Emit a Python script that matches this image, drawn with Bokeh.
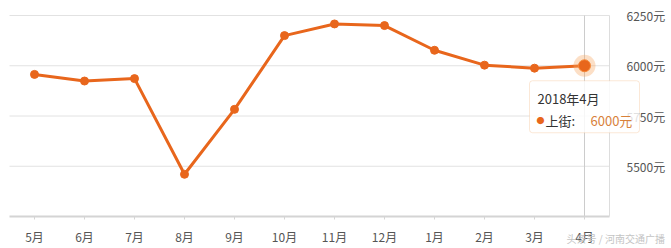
from bokeh.plotting import figure
from bokeh.models import Range1d, FixedTicker, PrintfTickFormatter, BoxAnnotation, Label, ColumnDataSource
from bokeh.embed import file_html
from bokeh.resources import INLINE

months = ["5月", "6月", "7月", "8月", "9月", "10月", "11月", "12月", "1月", "2月", "3月", "4月"]
prices = [5957, 5924, 5936, 5460, 5783, 6150, 6208, 6200, 6077, 6003, 5988, 6000]
y_ticks = [5500, 5750, 6000, 6250]
series_name = "上街"
tip_title = "2018年4月"
watermark = "头条号 / 河南交通广播"

ORANGE = "#E8661C"
FONT = "Noto Sans CJK SC"

W, H = 671, 248
# plotting area of the chart (pixels) and its value span
PX_LEFT, PX_RIGHT, PX_TOP, PX_BOTTOM = 9, 609, 15, 216
Y_MIN, Y_MAX = 5250, 6250
n = len(months)
ux = n / (PX_RIGHT - PX_LEFT)            # x units per pixel
uy = (Y_MAX - Y_MIN) / (PX_BOTTOM - PX_TOP)  # y units per pixel

xs = [i + 0.5 for i in range(n)]
src = ColumnDataSource(dict(x=xs, y=prices))

p = figure(width=W, height=H, output_backend="svg", toolbar_location=None,
           x_range=Range1d(-PX_LEFT * ux, (W - PX_LEFT) * ux),
           y_range=Range1d(Y_MIN - (H - PX_BOTTOM) * uy, Y_MAX + PX_TOP * uy),
           y_axis_location="right", min_border=0)
p.outline_line_color = None
p.background_fill_color = "white"
p.border_fill_color = "white"
p.xgrid.visible = False
p.ygrid.visible = False

# horizontal grid lines, limited to the plotting area
p.segment(x0=[0] * len(y_ticks), x1=[n] * len(y_ticks), y0=y_ticks, y1=y_ticks,
          line_color="#e2e2e2", line_width=1)

# x axis
xa = p.xaxis[0]
xa.fixed_location = Y_MIN
xa.bounds = (0, n)
xa.ticker = FixedTicker(ticks=xs)
xa.major_label_overrides = {x: m for x, m in zip(xs, months)}
xa.axis_line_color = "#d4d4d4"
xa.axis_line_width = 2
xa.major_tick_line_color = "#d4d4d4"
xa.major_tick_out = 3
xa.major_tick_in = 0
xa.minor_tick_line_color = None
xa.major_label_text_font = FONT
xa.major_label_text_font_size = "12px"
xa.major_label_text_color = "#555555"
xa.major_label_standoff = 8

# y axis (right)
ya = p.yaxis[0]
ya.fixed_location = n
ya.bounds = (Y_MIN, Y_MAX)
ya.ticker = FixedTicker(ticks=y_ticks)
ya.formatter = PrintfTickFormatter(format="%d元")
ya.axis_line_color = "#dddddd"
ya.major_tick_line_color = None
ya.minor_tick_line_color = None
ya.major_label_text_font = FONT
ya.major_label_text_font_size = "12px"
ya.major_label_text_color = "#555555"
ya.major_label_standoff = 11

# crosshair
p.segment(x0=[xs[-1]], x1=[xs[-1]], y0=[Y_MIN], y1=[Y_MAX],
          line_color="#cccccc", line_width=1)

p.line("x", "y", source=src, line_color=ORANGE, line_width=3)
p.scatter("x", "y", source=src, size=8, fill_color=ORANGE, line_color=ORANGE)

# highlighted point
p.scatter(x=[xs[-1]], y=[prices[-1]], size=22, fill_color="#F7A35C",
          fill_alpha=0.35, line_color=None)
p.scatter(x=[xs[-1]], y=[prices[-1]], size=12, fill_color=ORANGE,
          line_color="#F58A3A", line_width=1)

# tooltip
p.add_layout(BoxAnnotation(left=xs[-1] - 55 * ux, right=xs[-1] + 55 * ux,
                           top=prices[-1] - 15 * uy, bottom=prices[-1] - 67 * uy,
                           fill_color="white", fill_alpha=0.82,
                           line_color="#F3B27A", line_width=1, border_radius=3))
p.add_layout(Label(x=xs[-1], y=prices[-1], x_offset=-47, y_offset=-33,
                   text=tip_title, text_font=FONT, text_font_size="13px",
                   text_color="#333333", text_baseline="middle"))
p.add_layout(Label(x=xs[-1], y=prices[-1], x_offset=-48, y_offset=-55,
                   text="●", text_font=FONT, text_font_size="8px",
                   text_color=ORANGE, text_baseline="middle"))
p.add_layout(Label(x=xs[-1], y=prices[-1], x_offset=-39, y_offset=-55,
                   text=series_name + ":", text_font=FONT, text_font_size="13px",
                   text_color="#333333", text_baseline="middle"))
p.add_layout(Label(x=xs[-1], y=prices[-1], x_offset=6, y_offset=-55,
                   text=f"{prices[-1]}元", text_font=FONT, text_font_size="13px",
                   text_color="#D8813A", text_baseline="middle"))

# watermark
p.add_layout(Label(x=n, y=Y_MIN, x_offset=-43, y_offset=-22,
                   text=watermark, text_font=FONT, text_font_size="10px",
                   text_color="#c4c4c4", text_baseline="middle"))

open("out.html", "w").write(file_html(p, INLINE))
